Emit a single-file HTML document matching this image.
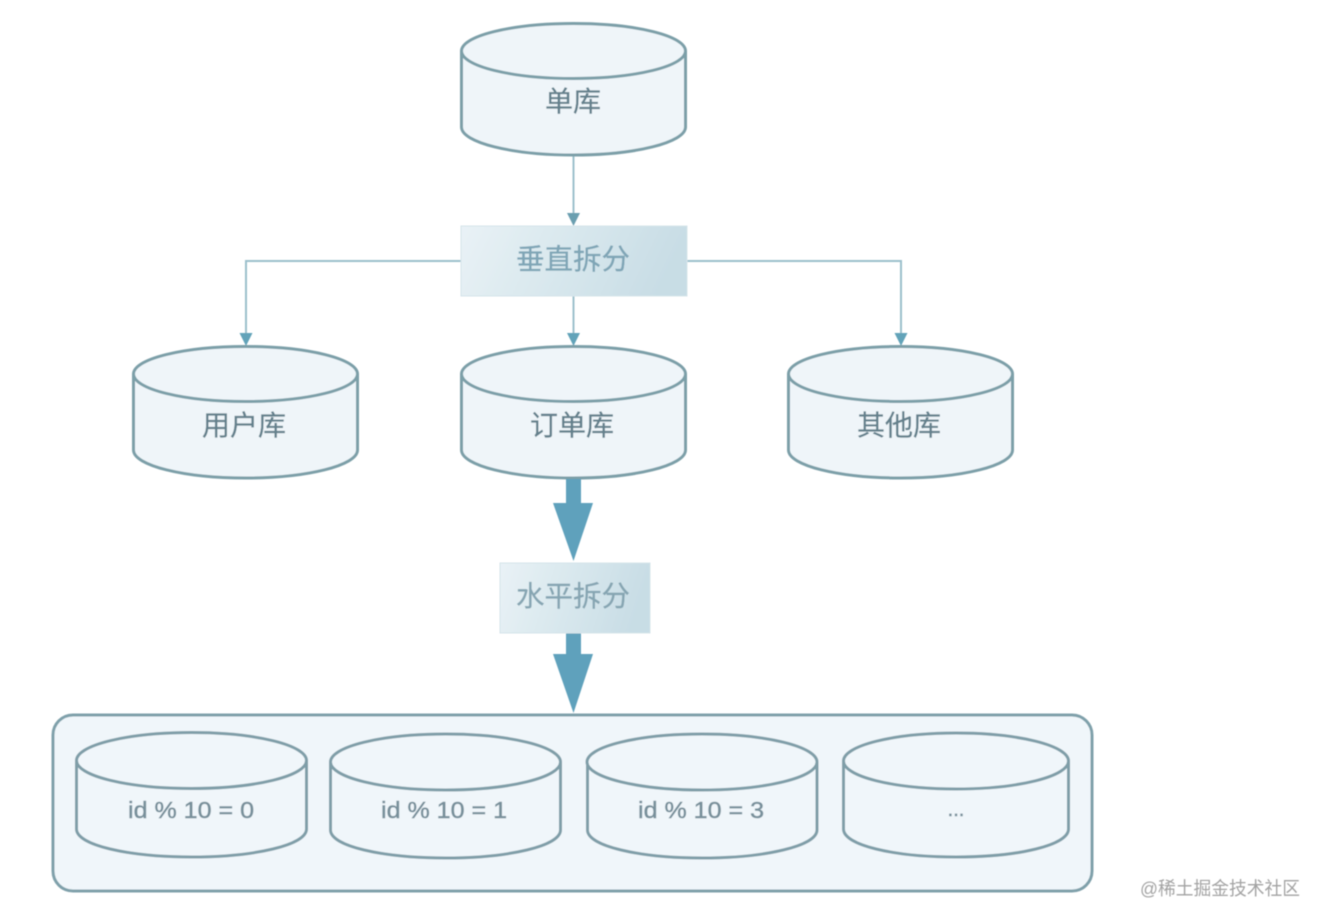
<!DOCTYPE html>
<html>
<head>
<meta charset="utf-8">
<style>
html,body{margin:0;padding:0;background:#fff;width:1325px;height:923px;overflow:hidden}
svg{display:block}
text{font-family:"Liberation Sans","Noto Sans CJK SC",sans-serif;text-anchor:middle}
.c{font-size:28px;fill:#64808c;stroke:#64808c;stroke-width:.3}
.b{font-size:28.5px;fill:#7fa5b6;stroke:#7fa5b6;stroke-width:.3}
.i{font-size:23px;fill:#78909b;stroke:#78909b;stroke-width:.5}
.cyl{fill:#eff5f9;stroke:#7b9fa8;stroke-width:3}
.cyl2{fill:#f0f6fa;stroke:#7f9ea8;stroke-width:3}
.ln{fill:none;stroke:#9cc0cc;stroke-width:2}
</style>
</head>
<body>
<svg width="1325" height="923" viewBox="0 0 1325 923" xmlns="http://www.w3.org/2000/svg">
<defs>
<linearGradient id="g" x1="0" y1="0" x2="1" y2="0.15">
<stop offset="0" stop-color="#e9f2f6"/>
<stop offset="1" stop-color="#c8dde5"/>
</linearGradient>
<filter id="bl" x="-2%" y="-2%" width="104%" height="104%"><feGaussianBlur stdDeviation="0.6"/></filter>
</defs>
<g filter="url(#bl)">
<!-- connectors -->
<path class="ln" d="M573.5 155V215"/>
<path d="M567 213H580L573.5 226Z" fill="#6b9fb0"/>
<path class="ln" d="M461 261H246V335"/>
<path d="M239.500 333H252.500L246 346Z" fill="#62a3b9"/>
<path class="ln" d="M687 261H901V335"/>
<path d="M894.500 333H907.500L901 346Z" fill="#62a3b9"/>
<path class="ln" d="M573.500 296V335"/>
<path d="M567 333H580L573.500 346Z" fill="#62a3b9"/>

<!-- top cylinder -->
<path class="cyl" d="M461.500 51V127C461.500 142.500 512 155 573.500 155S685.500 142.500 685.500 127V51"/>
<ellipse class="cyl" cx="573.500" cy="51" rx="112" ry="27.500"/>
<text class="c" x="573" y="111">单库</text>

<!-- vertical split -->
<rect x="461" y="226" width="226" height="70" fill="url(#g)" stroke="#d5e4ea" stroke-width="1"/>
<text class="b" x="573" y="269">垂直拆分</text>

<!-- row 2 -->
<path class="cyl" d="M133.500 374V450C133.500 465.500 184 478 245.500 478S357.500 465.500 357.500 450V374"/>
<ellipse class="cyl" cx="245.500" cy="374" rx="112" ry="27.500"/>
<text class="c" x="244" y="435">用户库</text>

<path class="cyl" d="M461.500 374V450C461.500 465.500 512 478 573.500 478S685.500 465.500 685.500 450V374"/>
<ellipse class="cyl" cx="573.500" cy="374" rx="112" ry="27.500"/>
<text class="c" x="572" y="435">订单库</text>

<path class="cyl" d="M788.500 374V450C788.500 465.500 839 478 900.500 478S1012.500 465.500 1012.500 450V374"/>
<ellipse class="cyl" cx="900.500" cy="374" rx="112" ry="27.500"/>
<text class="c" x="899" y="435">其他库</text>

<!-- thick arrows -->
<path d="M566 479H581V503H593L573.500 561L553 503H566Z" fill="#5fa1bc"/>
<path d="M566 632H581V654H593L573.500 713L553 654H566Z" fill="#5fa1bc"/>

<!-- horizontal split -->
<rect x="500" y="563" width="150" height="70" fill="url(#g)" stroke="#d5e4ea" stroke-width="1"/>
<text class="b" x="573" y="606" style="fill:#86a5b2;stroke:#86a5b2">水平拆分</text>

<!-- container -->
<rect x="53" y="715" width="1039" height="176" rx="20" ry="20" fill="#f0f6fa" stroke="#7fa0aa" stroke-width="3"/>

<path class="cyl2" d="M76.500 760V829C76.500 845 128 857 191.500 857S306.500 845 306.500 829V760"/>
<ellipse class="cyl2" cx="191.500" cy="760.500" rx="115" ry="28"/>
<text class="i" x="191" y="818" textLength="126" lengthAdjust="spacingAndGlyphs">id % 10 = 0</text>

<path class="cyl2" d="M330.500 762V830C330.500 846 382 858 445.500 858S560.500 846 560.500 830V762"/>
<ellipse class="cyl2" cx="445.500" cy="762" rx="115" ry="28"/>
<text class="i" x="444" y="818" textLength="126" lengthAdjust="spacingAndGlyphs">id % 10 = 1</text>

<path class="cyl2" d="M587.500 762V830C587.500 846 639 858 702 858S817 846 817 830V762"/>
<ellipse class="cyl2" cx="702" cy="762" rx="115" ry="28"/>
<text class="i" x="701" y="818" textLength="126" lengthAdjust="spacingAndGlyphs">id % 10 = 3</text>

<path class="cyl2" d="M843.500 761V829C843.500 845 893 857 956 857S1068.500 845 1068.500 829V761"/>
<ellipse class="cyl2" cx="956" cy="761" rx="112.500" ry="28"/>
<text class="i" x="956" y="816" style="font-size:20px">...</text>

<text x="1220" y="895" style="font-size:18.500px;fill:#a3a3a3" textLength="160" lengthAdjust="spacingAndGlyphs">@稀土掘金技术社区</text>
</g>
</svg>
</body>
</html>
